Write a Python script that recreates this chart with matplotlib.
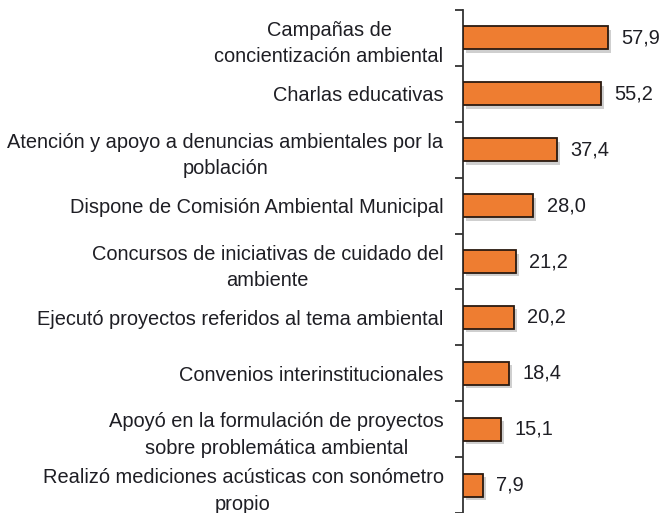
import matplotlib
matplotlib.use("Agg")
import matplotlib.pyplot as plt
import matplotlib.patheffects as pe

categories = [
    "Campañas de\nconcientización ambiental",
    "Charlas educativas",
    "Atención y apoyo a denuncias ambientales por la\npoblación",
    "Dispone de Comisión Ambiental Municipal",
    "Concursos de iniciativas de cuidado del\nambiente",
    "Ejecutó proyectos referidos al tema ambiental",
    "Convenios interinstitucionales",
    "Apoyó en la formulación de proyectos\nsobre problemática ambiental",
    "Realizó mediciones acústicas con sonómetro\npropio",
]
values = [57.9, 55.2, 37.4, 28.0, 21.2, 20.2, 18.4, 15.1, 7.9]
value_labels = ["57,9", "55,2", "37,4", "28,0", "21,2", "20,2", "18,4", "15,1", "7,9"]

plt.rcParams['font.family'] = ['Liberation Sans', 'DejaVu Sans']
text_color = '#1e1e24'

fig = plt.figure(figsize=(6.65, 5.13), dpi=100)
ax = fig.add_axes([463/665, 0.0, 1 - 463/665, 1 - 10/513])

y = list(range(len(categories)))
bars = ax.barh(y, values, height=0.41, color='#EE7D31', edgecolor='#2a1a10',
               linewidth=1.3, zorder=3)
for b in bars:
    b.set_path_effects([pe.SimplePatchShadow(offset=(2.5, -2.5), shadow_rgbFace='#777777', alpha=0.35),
                        pe.Normal()])

for yi, v, lab in zip(y, values, value_labels):
    ax.text(v + 5.4, yi, lab, va='center', ha='left', fontsize=14.4, color=text_color)

ax.set_xlim(0, (665 - 463) / 2.5)
ax.set_ylim(len(categories) - 0.5 + (513 - 10 - len(categories) * 56.1) / 56.1, -0.5)

ax.set_yticks(y)
ax.set_yticklabels(categories, fontsize=14.4, color=text_color, ha='right',
                   multialignment='center', linespacing=1.5)
ax.tick_params(axis='y', which='major', length=0, pad=14)
ax.set_yticks([i + 0.5 for i in range(-1, len(categories))], minor=True)
ax.tick_params(axis='y', which='minor', length=6, width=1.3, color='#333333', direction='out')
ax.set_xticks([])
for s in ['top', 'right', 'bottom']:
    ax.spines[s].set_visible(False)
ax.spines['left'].set_linewidth(1.3)
ax.spines['left'].set_color('#333333')

fig.savefig("out.png", dpi=100)
